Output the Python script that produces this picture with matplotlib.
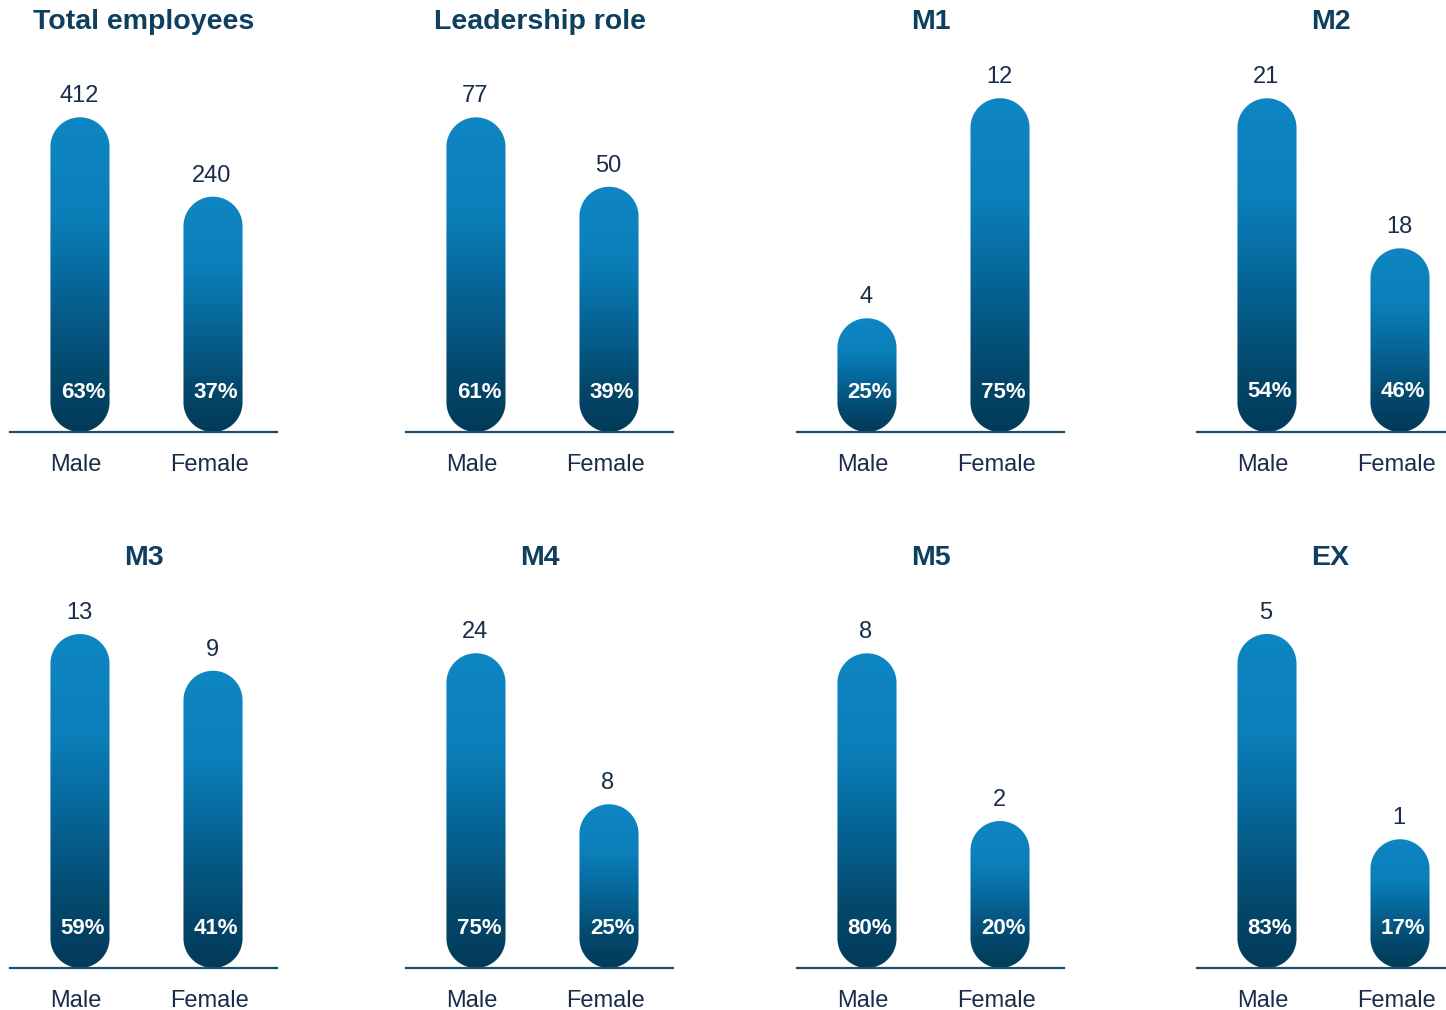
import numpy as np
import matplotlib.pyplot as plt
from matplotlib.patches import Polygon
from matplotlib.colors import LinearSegmentedColormap
from matplotlib.transforms import ScaledTranslation

plt.rcParams['font.family'] = ['Liberation Sans', 'DejaVu Sans']

# data
panel_titles = ["Total employees", "Leadership role", "M1", "M2", "M3", "M4", "M5", "EX"]
categories = ["Male", "Female"]
male_counts = [412, 77, 4, 21, 13, 24, 8, 5]
female_counts = [240, 50, 12, 18, 9, 8, 2, 1]
male_pct = [63, 61, 25, 54, 59, 75, 80, 83]
female_pct = [37, 39, 75, 46, 41, 25, 20, 17]

# per-panel value axis range (the source chart scales each panel on its own)
y_limits = [(-269.8, 618.4), (-45.4, 114.1), (-0.135, 14.77), (14.326, 22.526),
            (-23.40, 21.29), (-9.35, 34.09), (-3.26, 11.41), (-1.508, 6.48)]

# layout (pixels)
W, H = 1446, 1010
panel_left = [10, 406, 797, 1197]
row_base = [432, 968]
panel_w, panel_h = 267, 410
x_lim = (-0.526, 1.481)
bar_w = 0.444

title_color = '#0f3f5f'
text_color = '#1a2b4c'
line_color = '#1d4e6e'

bar_cmap = LinearSegmentedColormap.from_list(
    'bar', [(0.0, '#023a59'), (0.2, '#04496d'), (0.5, '#066a9e'),
            (0.7, '#0b7fba'), (1.0, '#0e86c3')])
grad = np.linspace(0, 1, 256).reshape(-1, 1)


def pill(xc, bottom, top, rx, ry):
    # capsule outline with true half circles at both ends
    t = np.linspace(0, np.pi, 60)
    top_arc = np.column_stack([xc + rx * np.cos(t), top - ry + ry * np.sin(t)])
    bot_arc = np.column_stack([xc - rx * np.cos(t), bottom + ry - ry * np.sin(t)])
    return np.vstack([top_arc, bot_arc])


fig = plt.figure(figsize=(W / 100, H / 100), dpi=100)

for i, title in enumerate(panel_titles):
    row, col = divmod(i, 4)
    left = panel_left[col]
    base = row_base[row]
    ax = fig.add_axes([left / W, (H - base) / H, panel_w / W, panel_h / H])
    y0, y1 = y_limits[i]

    px_x = panel_w / (x_lim[1] - x_lim[0])
    px_y = panel_h / (y1 - y0)
    rx = bar_w / 2
    ry = rx * px_x / px_y

    values = [male_counts[i], female_counts[i]]
    pcts = [male_pct[i], female_pct[i]]
    for j, (v, p) in enumerate(zip(values, pcts)):
        patch = Polygon(pill(j, y0, v, rx, ry), closed=True,
                        facecolor='none', edgecolor='none')
        ax.add_patch(patch)
        im = ax.imshow(grad, cmap=bar_cmap, origin='lower', aspect='auto',
                       extent=(j - bar_w / 2, j + bar_w / 2, y0, v), zorder=2)
        im.set_clip_path(patch)

        ax.annotate(str(v), (j, v), xytext=(-1, 21), textcoords='offset pixels',
                    ha='center', va='center', fontsize=17, color=text_color)
        ax.annotate(f"{p}%", (j, y0), xytext=(3, 40), textcoords='offset pixels',
                    ha='center', va='center', fontsize=16, fontweight='bold',
                    color='white', zorder=3)

    ax.set_xlim(*x_lim)
    ax.set_ylim(y0, y1)
    ax.set_xticks([0, 1], categories)
    ax.set_yticks([])
    ax.tick_params(axis='x', length=0, labelsize=17, labelcolor=text_color, pad=15.5)
    shift = ScaledTranslation(-4 / 100, 0, fig.dpi_scale_trans)
    for lab in ax.get_xticklabels():
        lab.set_transform(lab.get_transform() + shift)
    for s in ['top', 'right', 'left']:
        ax.spines[s].set_visible(False)
    ax.spines['bottom'].set_color(line_color)
    ax.spines['bottom'].set_linewidth(1.6)
    ax.text(0.5, 1.0, title, transform=ax.transAxes, ha='center', va='center',
            fontsize=20.5, fontweight='bold', color=title_color)

fig.savefig('out.png', dpi=100)
